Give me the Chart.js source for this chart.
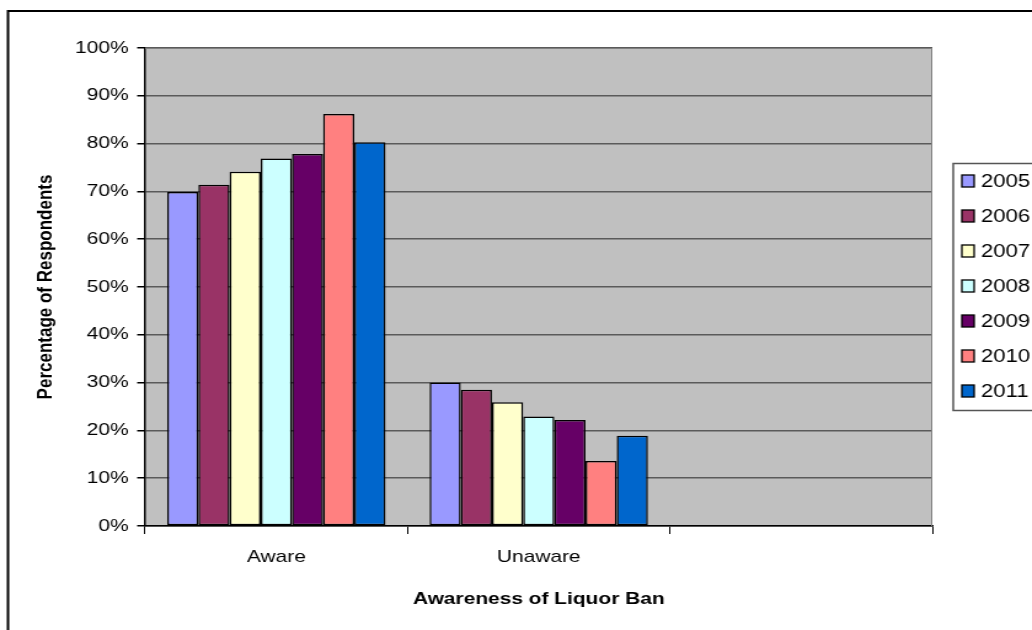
<!DOCTYPE html>
<html>
<head>
<meta charset="utf-8">
<script src="https://cdn.jsdelivr.net/npm/chart.js@4"></script>
<style>
  html, body { margin: 0; padding: 0; background: #fff; overflow: hidden; }
  /* the chart is laid out narrower and stretched sideways to the page width */
  #wrap { width: 839px; height: 630px; transform: scaleX(1.23); transform-origin: 0 0; }
</style>
</head>
<body>
<div id="wrap"><canvas id="Chart" width="839" height="630"></canvas></div>
<script>
const categories = ['Aware', 'Unaware', ''];
const years = ['2005', '2006', '2007', '2008', '2009', '2010', '2011'];
const aware = [69.9, 71.4, 74.1, 76.9, 77.8, 86.2, 80.3];
const unaware = [30.0, 28.5, 25.9, 22.9, 22.2, 13.6, 18.9];
const yearColors = ['#9999FF', '#993366', '#FFFFCC', '#CCFFFF', '#660066', '#FF8080', '#0066CC'];

const FONT = 'Liberation Sans, Arial, sans-serif';

// grey plot area, its frame, the outer border and the legend box
const decor = {
    id: 'decor',
    beforeDraw(chart) {
        const { ctx, chartArea: a } = chart;
        ctx.save();
        ctx.fillStyle = '#C0C0C0';
        ctx.fillRect(a.left, a.top, a.right - a.left, a.bottom - a.top);
        ctx.restore();
    },
    afterDraw(chart) {
        const { ctx, chartArea: a } = chart;
        ctx.save();
        ctx.strokeStyle = '#808080';
        ctx.lineWidth = 1;
        ctx.beginPath();
        ctx.moveTo(a.left, a.top + 0.5);
        ctx.lineTo(a.right - 0.5, a.top + 0.5);
        ctx.lineTo(a.right - 0.5, a.bottom);
        ctx.stroke();

        // outer chart border
        ctx.strokeStyle = '#000';
        ctx.lineWidth = 2;
        ctx.strokeRect(6.5, 11, 900, 700);

        // legend
        ctx.lineWidth = 1.5;
        ctx.strokeStyle = '#555';
        ctx.strokeRect(775, 163.5, 200, 247);
        ctx.font = '18px ' + FONT;
        ctx.textBaseline = 'middle';
        chart.data.datasets.forEach((ds, i) => {
            const y = 181 + i * 35;
            ctx.fillStyle = ds.backgroundColor;
            ctx.fillRect(782, y - 6, 10, 12);
            ctx.strokeStyle = '#000';
            ctx.lineWidth = 1.3;
            ctx.strokeRect(782, y - 6, 10, 12);
            ctx.fillStyle = '#000';
            ctx.fillText(ds.label, 797.5, y + 1);
        });
        ctx.restore();
    }
};

const ctx = document.getElementById('Chart');

new Chart(ctx, {
    type: 'bar',
    data: {
        labels: categories,
        datasets: years.map((yr, i) => ({
            label: yr,
            data: [aware[i], unaware[i], null],
            backgroundColor: yearColors[i],
            borderColor: '#000',
            borderWidth: 1.5,
            borderSkipped: false
        }))
    },
    options: {
        responsive: false,
        animation: false,
        devicePixelRatio: 1,
        layout: {
            padding: { left: 27, right: 81, top: 48, bottom: 20 }
        },
        plugins: {
            legend: { display: false },
            tooltip: { enabled: false }
        },
        datasets: {
            bar: { categoryPercentage: 0.832, barPercentage: 1 }
        },
        scales: {
            x: {
                offset: true,
                afterFit(scale) { scale.height = 84; },
                grid: {
                    offset: true,
                    drawOnChartArea: false,
                    drawTicks: true,
                    tickLength: 8,
                    color: '#000'
                },
                border: { color: '#000', width: 1.5 },
                ticks: {
                    color: '#000',
                    padding: 13,
                    font: { family: FONT, size: 17 }
                },
                title: {
                    display: true,
                    text: 'Awareness of Liquor Ban',
                    color: '#000',
                    padding: { top: 12, bottom: 0 },
                    font: { family: FONT, size: 17, weight: 'bold' }
                }
            },
            y: {
                min: 0,
                max: 100,
                afterFit(scale) { scale.width = 91; },
                grid: {
                    color: '#5a5a5a',
                    lineWidth: 1.5,
                    tickLength: 6.5,
                    tickColor: '#000'
                },
                border: { color: '#000', width: 1.5 },
                ticks: {
                    stepSize: 10,
                    color: '#000',
                    padding: 7,
                    font: { family: FONT, size: 17 },
                    callback: v => v + '%'
                },
                title: {
                    display: true,
                    text: 'Percentage of Respondents',
                    color: '#000',
                    padding: { top: 0, bottom: 0 },
                    font: { family: FONT, size: 17, weight: 'bold' }
                }
            }
        }
    },
    plugins: [decor]
});
</script>
</body>
</html>
